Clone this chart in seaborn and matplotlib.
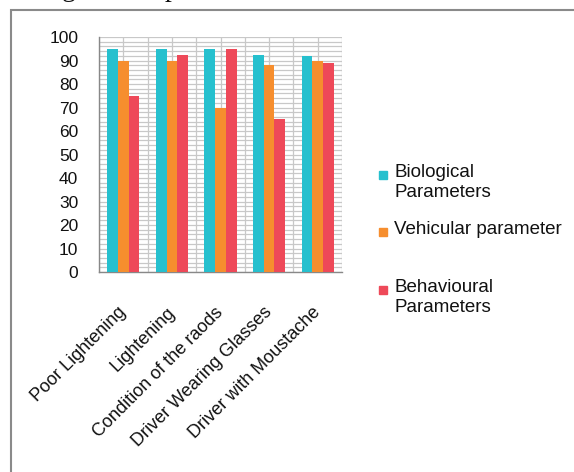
import pandas as pd
import seaborn as sns
import matplotlib.pyplot as plt
from matplotlib.patches import Rectangle
from matplotlib.ticker import MultipleLocator, FixedLocator

categories = ['Poor Lightening', 'Lightening', 'Condition of the raods',
              'Driver Wearing Glasses', 'Driver with Moustache']
series = ['Biological Parameters', 'Vehicular parameter', 'Behavioural Parameters']
biological = [95, 95, 95, 92.5, 92]
vehicular = [90, 90, 70, 88, 90]
behavioural = [75, 92.5, 95, 65, 89]
colors = ['#26C0CE', '#F68E2E', '#EE4959']

data = pd.DataFrame({
    'category': categories * 3,
    'series': [series[0]] * 5 + [series[1]] * 5 + [series[2]] * 5,
    'value': biological + vehicular + behavioural,
})

sns.set_style('white')
plt.rcParams['font.family'] = ['Liberation Sans', 'DejaVu Sans']

fig = plt.figure(figsize=(5.74, 4.72), dpi=100)
ax = fig.add_axes([0.1725, 0.4237, 0.4233, 0.4979])

sns.barplot(data=data, x='category', y='value', hue='series', palette=colors,
            width=0.66, saturation=1, ax=ax, legend=False, zorder=3,
            linewidth=0)

ax.set_xlim(-0.5, 4.5)
ax.set_ylim(0, 100)
ax.yaxis.set_major_locator(MultipleLocator(10))
ax.yaxis.set_minor_locator(MultipleLocator(2))
ax.xaxis.set_minor_locator(FixedLocator([-0.5, 0.5, 1.5, 2.5, 3.5, 4.5]))
grid_kw = dict(color='#c8c8c8', linewidth=0.9, zorder=0)
ax.grid(True, axis='y', which='both', **grid_kw)
ax.grid(True, axis='x', which='minor', **grid_kw)
for i in range(len(categories)):
    ax.axvline(i, **grid_kw)
ax.set_axisbelow(True)

ax.set_xlabel('')
ax.set_ylabel('')
# labels sit a little left of the group centre, as in the original
ax.set_xticks([i - 0.12 for i in range(len(categories))])
ax.set_xticklabels(categories, rotation=45, ha='right', va='top',
                   rotation_mode='anchor', fontsize=13, color='#111111')
ax.tick_params(axis='x', which='major', length=0, pad=23)
ax.tick_params(axis='x', which='minor', length=5, color='#888888', width=1)
ax.tick_params(axis='y', which='major', length=5, color='#888888', width=1,
               labelsize=12.5, labelcolor='#111111', pad=10)
ax.tick_params(axis='y', which='minor', length=0)

for side in ['left', 'bottom']:
    ax.spines[side].set_color('#888888')
    ax.spines[side].set_linewidth(1)
for side in ['top', 'right']:
    ax.spines[side].set_visible(False)

# outer chart frame
fig.add_artist(Rectangle((11 / 574, -0.1), 1.2, 1.1 - 10 / 472,
                         transform=fig.transFigure, fill=False,
                         edgecolor='#8a8a8a', linewidth=1.5))

# caption above, cut off by the top edge
fig.text(62 / 574, 1.0 + 4 / 472, 'g', fontsize=20, family='Liberation Serif',
         va='baseline', color='#111111')
fig.text(165 / 574, 1.0 + 4 / 472, 'p', fontsize=20, family='Liberation Serif',
         va='baseline', color='#111111')

# legend
legend_rows = [(175, 'Biological\nParameters'), (232, 'Vehicular parameter'),
               (290, 'Behavioural\nParameters')]
for (y, label), c in zip(legend_rows, colors):
    fig.add_artist(Rectangle((379 / 574, 1 - (y + 4) / 472), 8 / 574, 8 / 472,
                             transform=fig.transFigure, color=c))
    fig.text(394 / 574, 1 - (y - 11) / 472, label, fontsize=13.5, va='top',
             ha='left', color='#111111', linespacing=1.2)

fig.savefig('out.png', dpi=100)
